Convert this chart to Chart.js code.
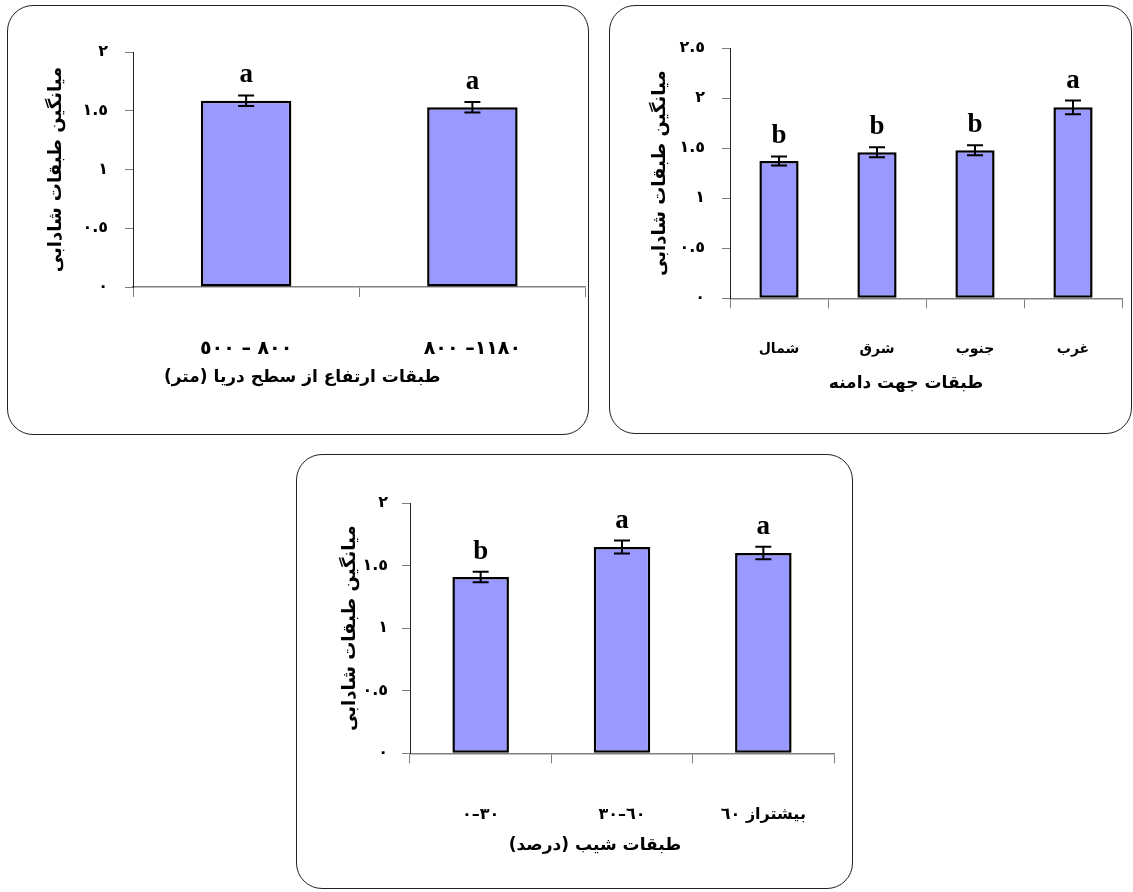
<!DOCTYPE html>
<html>
<head>
<meta charset="utf-8">
<script src="https://cdn.jsdelivr.net/npm/chart.js@4.4.1/dist/chart.umd.min.js"></script>
<style>
    body { margin: 0; background: #fff; width: 1133px; height: 892px; position: relative; overflow: hidden; }
    canvas { position: absolute; }
    .box { position: absolute; border: 1.5px solid #222; border-radius: 26px; box-sizing: border-box; pointer-events: none; }
</style>
</head>
<body>
<canvas id="chartElev" dir="rtl" width="580" height="428" style="left:8px;top:6px"></canvas>
<div class="box" style="left:7px;top:5px;width:582px;height:430px"></div>

<canvas id="chartAspect" dir="rtl" width="521" height="427" style="left:610px;top:6px"></canvas>
<div class="box" style="left:609px;top:5px;width:523px;height:429px"></div>

<canvas id="chartSlope" dir="rtl" width="555" height="433" style="left:297px;top:455px"></canvas>
<div class="box" style="left:296px;top:454px;width:557px;height:435px"></div>

<script>
const barColor = '#9999FF';
const faFont = "'DejaVu Sans'";

const yTitle = 'میانگین طبقات شادابی';

// elevation classes
const elevLabels = ['٨٠٠ – ٥٠٠', '١١٨٠– ٨٠٠'];
const elevMeans = [1.585, 1.53];
const elevErr = [0.045, 0.045];
const elevLetters = ['a', 'a'];
const elevTitle = 'طبقات ارتفاع از سطح دریا (متر)';

// aspect classes
const aspectLabels = ['شمال', 'شرق', 'جنوب', 'غرب'];
const aspectMeans = [1.372, 1.458, 1.478, 1.907];
const aspectErr = [0.045, 0.05, 0.05, 0.068];
const aspectLetters = ['b', 'b', 'b', 'a'];
const aspectTitle = 'طبقات جهت دامنه';

// slope classes
const slopeLabels = ['٣٠–٠', '٦٠–٣٠', 'بیشتراز ٦٠'];
const slopeMeans = [1.408, 1.648, 1.6];
const slopeErr = [0.042, 0.052, 0.05];
const slopeLetters = ['b', 'a', 'a'];
const slopeTitle = 'طبقات شیب (درصد)';

function toArabicDigits(v) {
    return String(v).replace(/[0-9]/g, d => '٠١٢٣٤٥٦٧٨٩'[d]);
}

// error bars, significance letters and x axis title
const errorBars = {
    id: 'errorBars',
    afterDatasetsDraw(chart, args, opts) {
        const { ctx, chartArea } = chart;
        const y = chart.scales.y;
        const vals = chart.data.datasets[0].data;
        const meta = chart.getDatasetMeta(0);
        ctx.save();
        ctx.strokeStyle = '#000';
        ctx.fillStyle = '#000';
        ctx.lineWidth = 2;
        meta.data.forEach((bar, i) => {
            const top = y.getPixelForValue(vals[i] + opts.errors[i]);
            const bot = y.getPixelForValue(vals[i] - opts.errors[i]);
            ctx.beginPath();
            ctx.moveTo(bar.x, top); ctx.lineTo(bar.x, bot);
            ctx.moveTo(bar.x - 8, top); ctx.lineTo(bar.x + 8, top);
            ctx.moveTo(bar.x - 8, bot); ctx.lineTo(bar.x + 8, bot);
            ctx.stroke();
            ctx.font = "bold 27px 'Liberation Serif'";
            ctx.textAlign = 'center';
            ctx.textBaseline = 'alphabetic';
            ctx.fillText(opts.letters[i], bar.x, top - 13);
        });
        ctx.font = 'bold 17px ' + faFont;
        ctx.textAlign = 'center';
        ctx.textBaseline = 'middle';
        ctx.fillText(opts.xTitle, (chartArea.left + chartArea.right) / 2 + opts.titleDx, opts.titleY);
        ctx.restore();
    }
};

function makeChart(id, labels, means, errors, letters, yMax, L) {
    return new Chart(document.getElementById(id), {
        type: 'bar',
        data: {
            labels: labels,
            datasets: [{
                data: means,
                backgroundColor: barColor,
                borderColor: '#000',
                borderWidth: 2.5,
                borderSkipped: false,
                barPercentage: 0.4,
                categoryPercentage: 1
            }]
        },
        options: {
            responsive: false,
            animation: false,
            layout: { padding: { left: 0, top: L.top, right: L.right, bottom: 0 } },
            plugins: {
                legend: { display: false },
                tooltip: { enabled: false },
                errorBars: { errors: errors, letters: letters, xTitle: L.xTitle, titleDx: L.titleDx, titleY: L.titleY }
            },
            scales: {
                x: {
                    grid: { display: true, offset: true, drawOnChartArea: false, tickLength: 10, color: '#808080' },
                    border: { color: '#808080', width: 1.5 },
                    ticks: { color: '#000', padding: L.xPad, maxRotation: 0, font: { family: faFont, size: L.xFont, weight: 'bold' } },
                    afterFit: s => { s.height = L.xHeight; }
                },
                y: {
                    min: 0,
                    max: yMax,
                    ticks: {
                        stepSize: 0.5,
                        padding: L.yPad,
                        color: '#000',
                        font: { family: faFont, size: 16, weight: 'bold' },
                        callback: v => toArabicDigits(v)
                    },
                    grid: { drawOnChartArea: false, tickLength: 8, color: '#808080' },
                    border: { color: '#222', width: 1 },
                    title: {
                        display: true,
                        text: yTitle,
                        color: '#000',
                        font: { family: faFont, size: 18, weight: 'bold' },
                        padding: { top: L.yTitlePad, bottom: 0 }
                    },
                    afterFit: s => { s.width = L.yWidth; }
                }
            }
        },
        plugins: [errorBars]
    });
}

makeChart('chartElev', elevLabels, elevMeans, elevErr, elevLetters, 2, {
    top: 46, right: 2.5, yWidth: 125, yPad: 17, yTitlePad: 38,
    xHeight: 147, xPad: 41, xFont: 19, xTitle: elevTitle, titleY: 372, titleDx: -57
});

makeChart('chartAspect', aspectLabels, aspectMeans, aspectErr, aspectLetters, 2.5, {
    top: 42, right: 9, yWidth: 120, yPad: 17, yTitlePad: 40,
    xHeight: 134.7, xPad: 33, xFont: 14, xTitle: aspectTitle, titleY: 378, titleDx: -20
});

makeChart('chartSlope', slopeLabels, slopeMeans, slopeErr, slopeLetters, 2, {
    top: 48, right: 18, yWidth: 113, yPad: 14, yTitlePad: 43,
    xHeight: 134.7, xPad: 42, xFont: 16, xTitle: slopeTitle, titleY: 391, titleDx: -27
});
</script>
</body>
</html>
